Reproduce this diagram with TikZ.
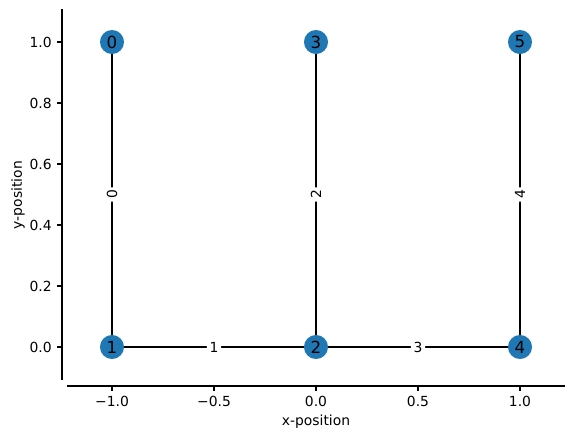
\documentclass[tikz,border=0pt]{standalone}
\usepackage{fontspec}
\setmainfont{DejaVu Sans}
\definecolor{nodeblue}{HTML}{1F77B4}
\tikzset{
  gnode/.style={circle, fill=nodeblue, minimum size=17.3pt, inner sep=0pt, font=\fontsize{12}{14}\selectfont},
  elabel/.style={fill=white, rounded corners=2pt, inner sep=2pt, font=\fontsize{10}{12}\selectfont},
  edge/.style={draw=black, line width=1pt},
  spine/.style={line width=0.8pt, line cap=rect},
  tickmark/.style={line width=0.8pt},
  ticklab/.style={inner sep=0pt, font=\fontsize{10}{12}\selectfont},
}
\begin{document}
\begin{tikzpicture}[x=0.72pt,y=-0.72pt]
\useasboundingbox (0,0) rectangle (574,439);
% spines
\coordinate (lsT) at (62,10);
\coordinate (lsB) at (62,379);
\coordinate (bsL) at (68,386);
\coordinate (bsR) at (564,386);
\draw[spine] (lsT) -- (lsB);
\draw[spine] (bsL) -- (bsR);
% x ticks
\foreach \xp/\lab [count=\i] in {112/{−1.0},214/{−0.5},316/{0.0},418/{0.5},520/{1.0}}{
  \draw[tickmark] (\xp,386) -- (\xp,391);
  \node[ticklab, anchor=north] (xt\i) at (\xp,396) {\lab};
}
% y ticks
\foreach \yp/\lab [count=\i] in {347/{0.0},286/{0.2},225/{0.4},164/{0.6},103/{0.8},42/{1.0}}{
  \draw[tickmark] (62,\yp) -- (57,\yp);
  \node[ticklab, anchor=east] (yt\i) at (52,\yp) {\lab};
}
\node[ticklab] (xlab) at (316,422) {x-position};
\node[ticklab, rotate=90] (ylab) at (18,195) {y-position};
% graph nodes
\node[gnode] (n0) at (112,42) {0};
\node[gnode] (n1) at (112,347) {1};
\node[gnode] (n2) at (316,347) {2};
\node[gnode] (n3) at (316,42) {3};
\node[gnode] (n4) at (520,347) {4};
\node[gnode] (n5) at (520,42) {5};
% edges
\draw[edge] (n0) -- (n1) node[elabel, midway, rotate=90] (e0) {0};
\draw[edge] (n1) -- (n2) node[elabel, midway] (e1) {1};
\draw[edge] (n3) -- (n2) node[elabel, midway, rotate=90] (e2) {2};
\draw[edge] (n2) -- (n4) node[elabel, midway] (e3) {3};
\draw[edge] (n5) -- (n4) node[elabel, midway, rotate=90] (e4) {4};
\end{tikzpicture}
\end{document}
